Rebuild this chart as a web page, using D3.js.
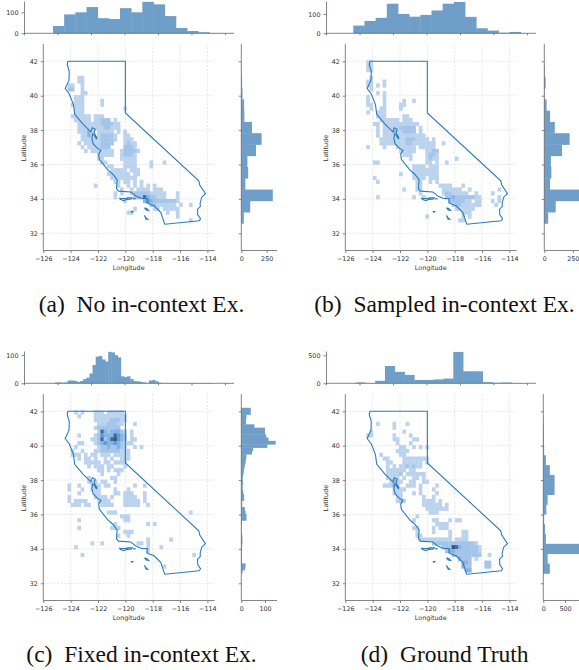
<!DOCTYPE html>
<html>
<head>
<meta charset="utf-8">
<script src="https://cdnjs.cloudflare.com/ajax/libs/d3/7.8.5/d3.min.js"></script>
<style>
  html, body { margin: 0; padding: 0; background: #fff; }
  svg { display: block; }
  .tick text, .axis-label { font-family: "DejaVu Sans", sans-serif; font-size: 6.4px; fill: #333; }
  .caption { font-family: "Liberation Serif", serif; font-size: 23.5px; fill: #111; }
  .soft { filter: blur(0.35px); }
</style>
</head>
<body>
<script>
// ============= Data =============
const lonTicks = [-126, -124, -122, -120, -118, -116, -114];
const latTicks = [32, 34, 36, 38, 40, 42];

// 2d histogram grid: one string per latitude row (north to south), one char per
// longitude column, digit = darkness level. spaces only there to count columns
const gridLonStart = -124.47;
const gridLatStart = 42.06;
const gridLonStep = 0.24;
const gridLatStep = 0.224;

const gridA = ["", "", "", "",
  "....11", "....11", ".11..1", ".22..1", ".....11", "...111",
  "...111.... .1", "..1111.... .1", "...111.... ........1", "...111",
  "..111111.1 11", "...11111.1 1222.1", "....111111 1222211", "....111111 1122111",
  "....11131. 11111.1.1", ".....1131. 122221..11", ".....11111 122221..11 1",
  "....1.1111 12222...12 11", ".....1.111 1222....22 21", "......1.11 11111..122 221",
  ".......... 11111..122 21", ".......... 11.....111 11", ".......... .11.....11 11....1...1",
  ".......... ...11...11 11....1", ".......... ....11111. 111", ".......... ...1111111 .11",
  ".......... ....111111 11", ".......... .....11.11 .1.1", ".........1 ......1..1 .1.1.1.1",
  ".......... .......1.. 1.1111.111", ".......... .....1.1.. 1222221111 1...1",
  ".......... .....1.... .222532211 1...1", ".......... ........1. ....343222 22221",
  ".......... .......... ......2211 1111.1..1.", ".......... .......... .1.....11. 11111",
  ".......... .........1 1......... .1..1", ".......... .......... .......... ....1",
  ".......... .......... .......... ........1"];

const gridB = ["11", "11", "11", "",
  ".1", "11...1", "11.1.1", ".1", "...1.1", "1....1",
  "1....1.... .1..1", "11...1.... 11", ".1..11.... 1", "1..111", "...111.... .11",
  "....111111 .111", "..11.11111 111111", "...1.11111 22222.1", "...1.11131 12222.1",
  "...1.11111 11111111", "....111111 112221111. 1", "....111111 1122111111 1..1",
  "1....1...1 11111.1111 1", ".......... 11111...11 22", ".......... .111....12 21",
  ".......... ...1....12 11.....1", "..11...... ........11 .1..1", ".......... ....1111.1 11",
  ".......... ....111111 11", ".......... 1...111111 11", "..1....... ....1111.1 11",
  "...1...... .....11..1 .1", ".......... .....11... ..1111...1",
  ".......... .1...11... ...111111. .1........1", ".......... ......1... ...1221111 1..1....1",
  "...1...... ....1..1.. ....223222 22211.....1", ".......... .......... .....22222 11.11...1.1",
  ".......... .......... ......1221 11111....1", ".......... .......... .......111 111",
  ".......... .......... .........1 11", ".......... ........1. .........1 .1",
  ".......... .......... ........11"];

const gridC = ["...1.1...1 11.11111", "....1....1 111111111", ".........1 111122211",
  ".......... 11122211.. .1", ".........1 2222222", ".......... 153233321. 1",
  "....1....1 243335432. 1", "........11 252356432. 11", "....11...1 2343343211 1",
  "...1...... 122322321. .1.1", "..1..1...1 1222222111", "..111.1.11 .111.11111",
  "....1.11.1 ..1.1..111", "......1111 1.11.1111", ".......1.1 11.11...1",
  ".......... 11.1.111", ".......... .1....1", ".......1.. ....11", ".......111 .11..1",
  ".1..1...11 1.11...... .1..1", ".1...1..11 1....1...1", "....1....1 1....11.11 1...1",
  ".1.......1 111.1...11 11..1", ".1.1111... 1111....11 111.1", "..111.11.. .1111...11 111..1",
  "", ".......... ...111.... .......... ........1", ".......... .......111",
  "....1..... ........11", ".......... .....1.... .....1.1", "....1..... ....111",
  ".......... ........11 1", ".......... ......1..1", ".......... .......... .....1.... ..1",
  "........1. .1........ ..11.1", "...1...... .......... .....1...1", ".......... .......... .....1",
  ".....1.... .......... .......... .........1", "", "", ".......... .......... .......... 1"];

const gridD = ["", "", "",
  "...1....1. ..1", "........1", ".1........ .1", "11......1. ...1", "........11 ....11",
  ".........1 ...1", ".......... 11..1.1.1", ".........1 111", "....1..... 11",
  ".....11... .11111111.", "......11.. .111111.1", "......1.1. 1121211", "......1111 11.11",
  "......1111 2.111111", "......1111 .1..11.1", ".......131 1..11..11", ".....11131 ..111.1... .1",
  "........11 11....1... 1", "........11 1...1.1... .1", ".........1 1......1.. 1",
  ".........1 21.....111 1.1", ".......... .......111 111.1", ".......... ........11 11111",
  ".......... .........1 11", ".......... .....1", ".......... ....1..... 11...1.11",
  ".......... .......... .1111", ".......... ....11.... 1.111", ".......... .....1.... 1....1...1 1",
  ".......... .....11... .....1...1 1", ".......... ......1111 111111.111 1",
  ".......... .......... 2222222222 2221", ".......... .......... ...2226532 22221",
  ".......... .......... ....233222 22221", ".......... .......... ......2222 22222..1",
  ".......... .......... ........32 22.1", ".......... .......... .........3 32....22",
  ".......... .......... .........3 22....22", ".......... .......... .......... 33"];

// longitude marginals
const topA = [35, 90, 100, 125, 72, 68, 120, 100, 150, 138, 82, 25, 11, 5, 1];
const topB = [40, 64, 80, 153, 100, 86, 95, 118, 153, 162, 85, 26, 14, 3, 7];
const topC = [3, 3, 2, 3, 10, 10, 9, 5, 8, 15, 20, 35, 65, 95, 97, 85, 78, 112, 110, 100, 92, 25, 22, 25, 15,
  8, 7, 5, 3, 1, 10, 12, 7, 2, 1, 1, 1, 1, 1, 1, 1, 1, 1, 1, 1, 1, 1, 1, 1, 1];
const topD = [15, 3, 45, 310, 205, 150, 60, 60, 70, 85, 560, 215, 215, 20, 10, 15, 3];

// latitude marginals, south to north
const rightA = [25, 88, 310, 40, 68, 60, 145, 200, 105, 30, 28, 12, 8, 3];
const rightB = [34, 100, 310, 50, 62, 58, 155, 222, 92, 50, 20, 3, 12, 5];
const rightC = [5, 16, 18, 3, 2, 3, 3, 3, 4, 5, 5, 4, 2, 2, 2, 3, 22, 22, 18, 15, 4, 4, 12, 12, 8, 6, 6, 7, 6, 7,
  10, 12, 15, 18, 20, 22, 45, 50, 110, 145, 115, 105, 100, 100, 55, 20, 20, 22, 40, 40];
const rightD = [150, 100, 830, 60, 40, 20, 70, 100, 260, 260, 150, 60, 20, 15, 15, 8];

// state border, [lon, lat]
const stateOutline = [[-124.21, 42], [-120, 42], [-120, 39], [-114.63, 35.05], [-114.56, 34.8], [-114.14, 34.3],
  [-114.42, 34.1], [-114.53, 33.75], [-114.52, 33.55], [-114.72, 33.4], [-114.7, 33.08], [-114.5, 32.85],
  [-114.6, 32.73], [-117.12, 32.53], [-117.26, 32.85], [-117.4, 33.2], [-117.9, 33.6], [-118.3, 33.72],
  [-118.42, 33.78], [-118.4, 34.02], [-118.8, 34.02], [-119.2, 34.15], [-119.6, 34.4], [-120.5, 34.45],
  [-120.65, 34.6], [-120.6, 35.1], [-120.9, 35.42], [-121.3, 35.7], [-121.9, 36.3], [-121.95, 36.6],
  [-121.78, 36.82], [-122.05, 36.95], [-122.35, 37.2], [-122.45, 37.5], [-122.4, 37.78], [-122.3, 37.72],
  [-122.12, 37.5], [-122.08, 37.56], [-122.28, 37.85], [-122.2, 38.05], [-122.42, 38.14], [-122.52, 37.9],
  [-123.1, 38.35], [-123.7, 38.92], [-123.8, 39.5], [-124.1, 40.1], [-124.4, 40.42],
  [-124.12, 40.9], [-124.1, 41.4], [-124.25, 41.8], [-124.21, 42]];
const islandOutlines = [
  [[-120.45, 34.04], [-120.2, 34.02], [-120.0, 34.04], [-119.88, 33.98], [-120.1, 33.9], [-120.35, 33.96], [-120.45, 34.04]],
  [[-119.9, 34.07], [-119.5, 34.06], [-119.55, 33.99], [-119.85, 33.97], [-119.9, 34.07]],
  [[-119.4, 34.02], [-119.25, 34.01], [-119.4, 34.0], [-119.4, 34.02]],
  [[-118.6, 33.48], [-118.42, 33.43], [-118.3, 33.33], [-118.48, 33.36], [-118.6, 33.48]],
  [[-118.6, 33.03], [-118.48, 32.9], [-118.35, 32.82], [-118.48, 32.82], [-118.6, 33.03]],
  [[-119.58, 33.28], [-119.45, 33.26], [-119.55, 33.22], [-119.58, 33.28]]];

const captions = ["(a)\u00a0 No in-context Ex.", "(b)\u00a0 Sampled in-context Ex.", "(c)\u00a0 Fixed in-context Ex.", "(d)\u00a0 Ground Truth"];

// ============= Panels =============
const panels = [
  {ox: 0, oy: 0, grid: gridA, top: topA, topStart: -124.27, topStep: 0.667, topMax: 154, topTicks: [0, 100],
   right: rightA, rightStep: 0.655, rightScale: 0.1016, rightTicks: [0, 250], rightAxis: 241.3, rightEnd: 277, capX: 141.5, capY: 312, cap: captions[0]},
  {ox: 302, oy: 0, grid: gridB, top: topB, topStart: -124.37, topStep: 0.667, topMax: 167, topTicks: [0, 100],
   right: rightB, rightStep: 0.655, rightScale: 0.114, rightTicks: [0, 250], rightAxis: 242.3, rightEnd: 277, capX: 142.5, capY: 312, cap: captions[1]},
  {ox: 0, oy: 350, grid: gridC, top: topC, topStart: -124.15, topStep: 0.187, topMax: 115, topTicks: [0, 100],
   right: rightC, rightStep: 0.1925, rightScale: 0.237, rightTicks: [0, 100], rightAxis: 241.3, rightEnd: 277, capX: 141.5, capY: 311.7, cap: captions[2]},
  {ox: 302, oy: 350, grid: gridD, top: topD, topStart: -124.23, topStep: 0.583, topMax: 577, topTicks: [0, 500],
   right: rightD, rightStep: 0.572, rightScale: 0.0434, rightTicks: [0, 500], rightAxis: 241.3, rightEnd: 277, capX: 142.7, capY: 311.7, cap: captions[3]}
];

const width = 579, height = 670;
const seam = 0.4; // small overlap so neighbouring cells and bars don't show a hairline
const level = d3.scaleOrdinal([1, 2, 3, 4, 5, 6], ['#bcd3ee', '#a4c5e9', '#86b3e3', '#5f9ad6', '#3d6c9f', '#3b5470']);
const blockColor = '#6f9fc8', lineColor = '#2b7bba', spineColor = '#666', gridColor = '#dcdcdc';

const svg = d3.select('body').append('svg')
  .attr('width', width)
  .attr('height', height);

panels.forEach(p => {
  const g = svg.append('g')
    .attr('transform', 'translate(' + p.ox + ',' + p.oy + ')');
  const chart = g.append('g').attr('class', 'soft');

  // ------------ Main ------------
  const x = d3.scaleLinear().domain([-126, -114]).range([43.3, 207.4]);
  const y = d3.scaleLinear().domain([32, 42]).range([233.3, 61.3]);
  const xEnd = 214.7, yTop = y(43), yBottom = y(31);

  chart.append('g').selectAll('line')
    .data(lonTicks.slice(1))
    .join('line')
    .attr('x1', d => x(d)).attr('x2', d => x(d))
    .attr('y1', yTop).attr('y2', yBottom)
    .attr('stroke', gridColor).attr('stroke-width', 0.7).attr('stroke-dasharray', '2,1.5');
  chart.append('g').selectAll('line')
    .data(latTicks)
    .join('line')
    .attr('x1', x(-126)).attr('x2', xEnd)
    .attr('y1', d => y(d)).attr('y2', d => y(d))
    .attr('stroke', gridColor).attr('stroke-width', 0.7).attr('stroke-dasharray', '2,1.5');

  const cells = p.grid.flatMap((row, r) =>
    Array.from(row.replace(/ /g, ''), (ch, c) => ({r: r, c: c, v: +ch})).filter(d => d.v > 0));

  chart.append('g').selectAll('rect')
    .data(cells)
    .join('rect')
    .attr('x', d => x(gridLonStart + d.c*gridLonStep))
    .attr('y', d => y(gridLatStart - d.r*gridLatStep))
    .attr('width', x(gridLonStep) - x(0) + seam)
    .attr('height', y(0) - y(gridLatStep) + seam)
    .attr('fill', d => level(d.v));

  const outline = d3.line().x(d => x(d[0])).y(d => y(d[1]));
  chart.append('g').selectAll('path')
    .data([stateOutline].concat(islandOutlines))
    .join('path')
    .attr('d', outline)
    .attr('fill', 'none')
    .attr('stroke', lineColor)
    .attr('stroke-width', 1.1);

  const xAxis = d3.axisBottom(x).tickValues(lonTicks).tickFormat(d3.format('d')).tickSize(2.5).tickSizeOuter(0);
  const yAxis = d3.axisLeft(y).tickValues(latTicks).tickFormat(d3.format('d')).tickSize(2.5).tickSizeOuter(0);

  const xG = g.append('g').attr('transform', 'translate(0,' + yBottom + ')').call(xAxis);
  xG.select('.domain').attr('d', 'M' + x(-126) + ',0H' + xEnd);
  const yG = g.append('g').attr('transform', 'translate(' + x(-126) + ',0)').call(yAxis);
  yG.select('.domain').attr('d', 'M0,' + yTop + 'V' + yBottom);

  g.append('text').attr('class', 'axis-label')
    .attr('x', 128.7).attr('y', 269.5).attr('text-anchor', 'middle')
    .text('Longitude');
  g.append('text').attr('class', 'axis-label')
    .attr('transform', 'translate(25.5,148) rotate(-90)').attr('text-anchor', 'middle')
    .text('Latitude');

  // ------------ Top marginal ------------
  const topX = d3.scaleLinear().domain([-126, -114]).range([24, 225]);
  const baseY = 33.3;
  const topY = d3.scaleLinear().domain([0, p.topMax]).range([baseY, 1]);

  chart.append('g').selectAll('rect')
    .data(p.top)
    .join('rect')
    .attr('x', (d, i) => topX(p.topStart + i*p.topStep))
    .attr('y', d => topY(d))
    .attr('width', topX(p.topStep) - topX(0) + seam)
    .attr('height', d => baseY - topY(d))
    .attr('fill', blockColor);

  const topXAxis = d3.axisBottom(topX).tickValues(lonTicks).tickFormat('').tickSize(2).tickSizeOuter(0);
  const topXG = g.append('g').attr('transform', 'translate(0,' + baseY + ')').call(topXAxis);
  topXG.select('.domain').attr('d', 'M24,0H234');
  g.append('g').attr('transform', 'translate(24,0)')
    .call(d3.axisLeft(topY).tickValues(p.topTicks).tickFormat(d3.format('d')).tickSize(2.5).tickSizeOuter(0));

  // ------------ Right marginal ------------
  const rightX = d3.scaleLinear().domain([0, 1]).range([p.rightAxis, p.rightAxis + p.rightScale]);
  const rightStart = 32.58;

  chart.append('g').selectAll('rect')
    .data(p.right)
    .join('rect')
    .attr('x', p.rightAxis)
    .attr('y', (d, i) => y(rightStart + (i + 1)*p.rightStep))
    .attr('width', d => rightX(d) - p.rightAxis)
    .attr('height', y(0) - y(p.rightStep) + seam)
    .attr('fill', blockColor);

  const rightXG = g.append('g').attr('transform', 'translate(0,' + yBottom + ')')
    .call(d3.axisBottom(rightX).tickValues(p.rightTicks).tickFormat(d3.format('d')).tickSize(2.5).tickSizeOuter(0));
  rightXG.select('.domain').attr('d', 'M' + p.rightAxis + ',0H' + p.rightEnd);
  const rightYG = g.append('g').attr('transform', 'translate(' + p.rightAxis + ',0)')
    .call(d3.axisLeft(y).tickValues(latTicks).tickFormat('').tickSize(2.5).tickSizeOuter(0));
  rightYG.select('.domain').attr('d', 'M0,' + yTop + 'V' + yBottom);

  g.selectAll('.domain, .tick line').attr('stroke', spineColor).attr('stroke-width', 0.8);
  g.selectAll('.tick text').attr('font-size', null).attr('font-family', null);

  g.append('text').attr('class', 'caption')
    .attr('x', p.capX).attr('y', p.capY).attr('text-anchor', 'middle')
    .text(p.cap);
});
</script>
</body>
</html>
